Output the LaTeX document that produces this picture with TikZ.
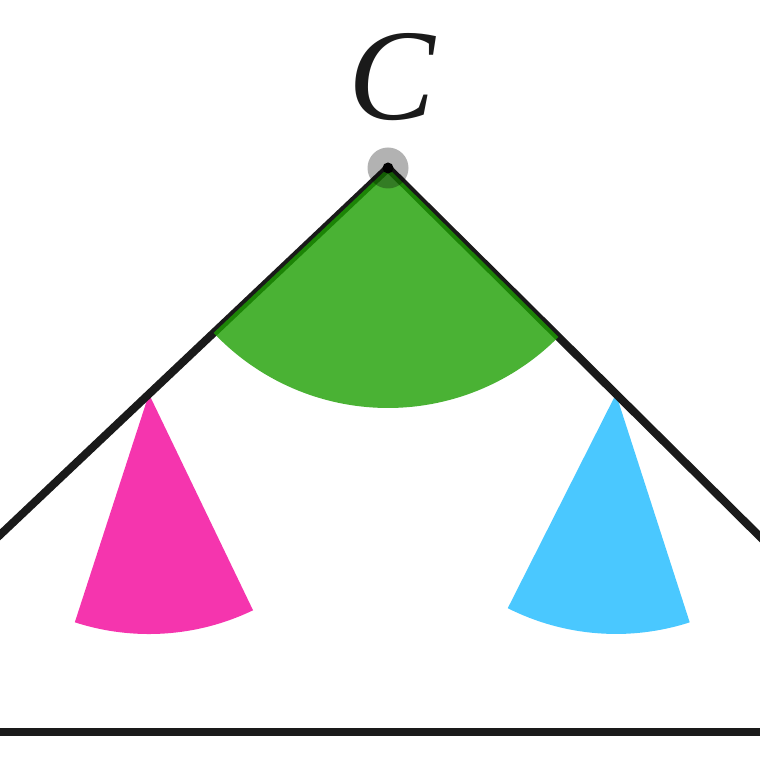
\documentclass[tikz,border=0pt]{standalone}
\usepackage{fontspec}
\newfontfamily\labfont{Liberation Serif}
\definecolor{linecol}{RGB}{26,26,26}
\definecolor{greenfill}{RGB}{29,159,1}
\definecolor{pinkfill}{RGB}{245,53,174}
\definecolor{cyanfill}{RGB}{74,200,255}
\begin{document}
\begin{tikzpicture}[x=1pt,y=1pt,
  edge/.style={draw=linecol,line width=8pt,line join=round},
  sectorpink/.style={fill=pinkfill},
  sectorcyan/.style={fill=cyanfill},
  sectorgreen/.style={fill=greenfill,fill opacity=0.8}]
\useasboundingbox (0,0) rectangle (760,760);
\clip (0,0) rectangle (760,760);
\coordinate (C) at (388,592);
\path (C) ++(223.4:600) coordinate (A);
\path (C) ++(315.25:600) coordinate (B);
\path (C) ++(223.4:329) coordinate (P);
\path (C) ++(315.25:321) coordinate (Q);
\coordinate (BL) at (-10,28);
\coordinate (BR) at (770,28);
% base-angle sectors
\fill[sectorpink] (P) -- ++(252:240) arc[start angle=252,end angle=295.7,radius=240] -- cycle;
\fill[sectorcyan] (Q) -- ++(243.2:240) arc[start angle=243.2,end angle=287.9,radius=240] -- cycle;
% sides
\draw[edge] (A) -- (C) -- (B);
\draw[edge] (BL) -- (BR);
% apex sector
\fill[sectorgreen] (C) -- ++(223.4:240) arc[start angle=223.4,end angle=315.25,radius=240] -- cycle;
% apex point
\fill[black,opacity=0.3] (C) circle[radius=20.5];
\fill[black] (C) circle[radius=5.5];
\node[font=\labfont\itshape\fontsize{130}{130}\selectfont,anchor=base,inner sep=0pt,text=linecol] (lab) at (392,640) {C};
\end{tikzpicture}
\end{document}
